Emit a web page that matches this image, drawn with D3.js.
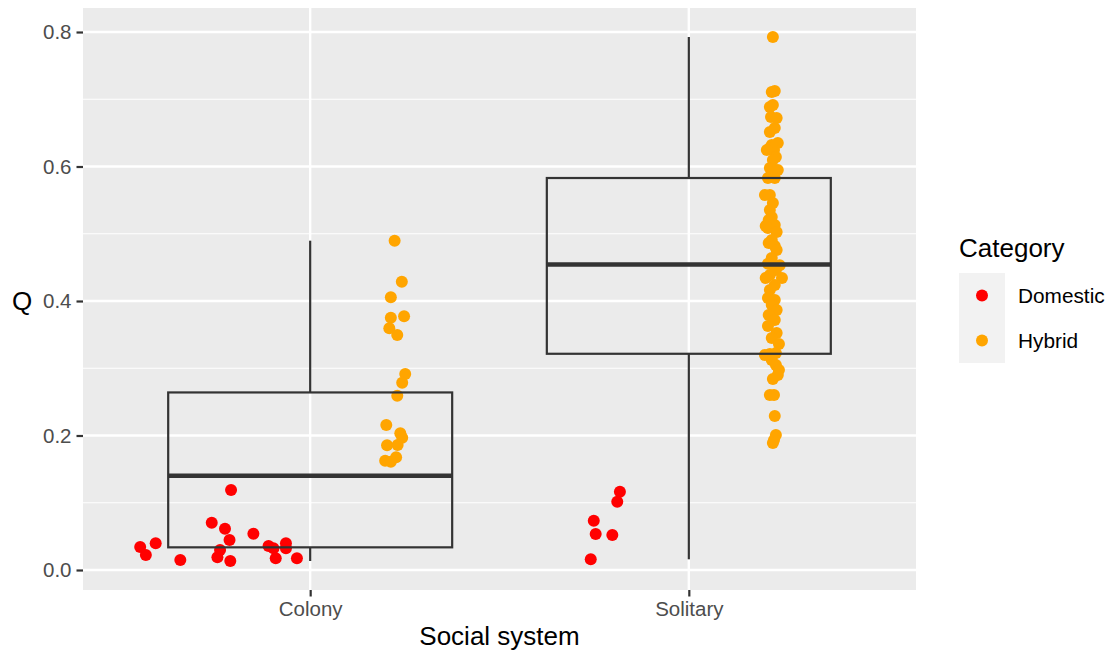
<!DOCTYPE html>
<html>
<head>
<meta charset="utf-8">
<script src="https://cdn.jsdelivr.net/npm/d3@7"></script>
<style>
  body { margin: 0; background: #fff; }
  svg { font-family: "Liberation Sans", Arial, Helvetica, sans-serif; }
</style>
</head>
<body>
<div id="chart"></div>
<script>
// categories and tick labels
const systems = ["Colony", "Solitary"];
const categories = ["Domestic", "Hybrid"];
const yTicks = [0, 0.2, 0.4, 0.6, 0.8];

// Q values, with the jitter offset (in category units) of each point
const colonyDomesticQ = [0.0342, 0.0397, 0.0223, 0.0149, 0.0704, 0.0615, 0.0540, 0.0446, 0.0297, 0.0189,
  0.0134, 0.1190, 0.0357, 0.0322, 0.0397, 0.0322, 0.0174, 0.0174];
const colonyDomesticJit = [-0.449, -0.408, -0.434, -0.343, -0.260, -0.225, -0.150, -0.213, -0.238, -0.245,
  -0.211, -0.209, -0.110, -0.097, -0.064, -0.064, -0.091, -0.035];

const colonyHybridQ = [0.4897, 0.4287, 0.4055, 0.3752, 0.3772, 0.3594, 0.3494, 0.2914, 0.2785, 0.2592,
  0.2156, 0.2033, 0.1967, 0.1854, 0.1859, 0.1676, 0.1625, 0.1611];
const colonyHybridJit = [0.223, 0.242, 0.213, 0.213, 0.248, 0.209, 0.230, 0.251, 0.243, 0.230,
  0.201, 0.238, 0.243, 0.203, 0.231, 0.227, 0.198, 0.213];

const solitaryDomesticQ = [0.1165, 0.1016, 0.0733, 0.0535, 0.0520, 0.0159];
const solitaryDomesticJit = [-0.182, -0.189, -0.251, -0.246, -0.202, -0.259];

const solitaryHybridQ = [0.7926, 0.7108, 0.7123, 0.6885, 0.6914, 0.6736, 0.6721, 0.6572, 0.6513, 0.6320,
  0.6275, 0.6349, 0.6245, 0.6245, 0.6141, 0.6097, 0.5978, 0.5948, 0.5829, 0.5829,
  0.5576, 0.5576, 0.5457, 0.5353, 0.5249, 0.5204, 0.5130, 0.5086, 0.5086, 0.5115,
  0.5026, 0.4907, 0.4862, 0.4818, 0.4758, 0.4639, 0.4555, 0.4530, 0.4461, 0.4387,
  0.4342, 0.4342, 0.4238, 0.4164, 0.4045, 0.4015, 0.3941, 0.3866, 0.3792, 0.3717,
  0.3628, 0.3524, 0.3450, 0.3361, 0.3225, 0.3212, 0.3197, 0.3123, 0.3048, 0.2974,
  0.2900, 0.2840, 0.2602, 0.2602, 0.2290, 0.2007, 0.1933, 0.1888];
const solitaryHybridJit = [0.222, 0.219, 0.227, 0.214, 0.222, 0.217, 0.232, 0.227, 0.214, 0.219,
  0.214, 0.235, 0.225, 0.206, 0.230, 0.222, 0.214, 0.235, 0.209, 0.227,
  0.214, 0.201, 0.222, 0.214, 0.219, 0.211, 0.227, 0.209, 0.225, 0.203,
  0.232, 0.219, 0.211, 0.227, 0.232, 0.219, 0.209, 0.240, 0.230, 0.214,
  0.203, 0.246, 0.227, 0.214, 0.209, 0.227, 0.219, 0.232, 0.211, 0.227,
  0.209, 0.232, 0.219, 0.238, 0.230, 0.214, 0.201, 0.219, 0.230, 0.238,
  0.235, 0.222, 0.214, 0.225, 0.227, 0.230, 0.225, 0.222];

const colors = { Domestic: "#FF0000", Hybrid: "#FFA500" };

const groups = [
  { system: "Colony", cat: "Domestic", q: colonyDomesticQ, jit: colonyDomesticJit },
  { system: "Colony", cat: "Hybrid", q: colonyHybridQ, jit: colonyHybridJit },
  { system: "Solitary", cat: "Domestic", q: solitaryDomesticQ, jit: solitaryDomesticJit },
  { system: "Solitary", cat: "Hybrid", q: solitaryHybridQ, jit: solitaryHybridJit }
];
const points = groups.flatMap(g => g.q.map((v, i) => ({ system: g.system, cat: g.cat, q: v, jit: g.jit[i] })));

const W = 1110, H = 652;
const panel = { left: 83, right: 916, top: 8, bottom: 590 };

const svg = d3.select("#chart").append("svg").attr("width", W).attr("height", H);

// discrete x positions 1..n with ggplot's 0.6 expansion
const x = d3.scaleLinear().domain([0.4, systems.length + 0.6]).range([panel.left, panel.right]);
const xPos = s => systems.indexOf(s) + 1;
const y = d3.scaleLinear().domain([-0.02974, 0.8357]).range([panel.bottom, panel.top]);

// panel background and grid
svg.append("rect")
  .attr("x", panel.left).attr("y", panel.top)
  .attr("width", panel.right - panel.left).attr("height", panel.bottom - panel.top)
  .attr("fill", "#EBEBEB");

const minor = d3.range(0.1, 0.8, 0.2);
svg.append("g").selectAll("line").data(minor).enter().append("line")
  .attr("x1", panel.left).attr("x2", panel.right)
  .attr("y1", d => y(d)).attr("y2", d => y(d))
  .attr("stroke", "#fff").attr("stroke-width", 1.2);
svg.append("g").selectAll("line").data(yTicks).enter().append("line")
  .attr("x1", panel.left).attr("x2", panel.right)
  .attr("y1", d => y(d)).attr("y2", d => y(d))
  .attr("stroke", "#fff").attr("stroke-width", 2.4);
svg.append("g").selectAll("line").data(systems).enter().append("line")
  .attr("x1", d => x(xPos(d))).attr("x2", d => x(xPos(d)))
  .attr("y1", panel.top).attr("y2", panel.bottom)
  .attr("stroke", "#fff").attr("stroke-width", 2.4);

// points (jitter-dodged)
svg.append("g").selectAll("circle").data(points).enter().append("circle")
  .attr("cx", d => x(xPos(d.system) + d.jit))
  .attr("cy", d => y(d.q))
  .attr("r", 6)
  .attr("fill", d => colors[d.cat]);

// boxplot stats per social system, all categories together
const boxW = 0.75;
const stats = systems.map(s => {
  const v = points.filter(p => p.system === s).map(p => p.q).sort(d3.ascending);
  const q1 = d3.quantile(v, 0.25), med = d3.quantile(v, 0.5), q3 = d3.quantile(v, 0.75);
  const iqr = q3 - q1;
  const lo = d3.min(v.filter(d => d >= q1 - 1.5 * iqr));
  const hi = d3.max(v.filter(d => d <= q3 + 1.5 * iqr));
  return { s, q1, med, q3, lo, hi };
});

const box = svg.append("g").attr("stroke", "#333333").attr("fill", "none");
stats.forEach(d => {
  const cx = x(xPos(d.s));
  box.append("line").attr("x1", cx).attr("x2", cx).attr("y1", y(d.q3)).attr("y2", y(d.hi)).attr("stroke-width", 2.2);
  box.append("line").attr("x1", cx).attr("x2", cx).attr("y1", y(d.q1)).attr("y2", y(d.lo)).attr("stroke-width", 2.2);
  box.append("rect")
    .attr("x", x(xPos(d.s) - boxW / 2)).attr("width", x(xPos(d.s) + boxW / 2) - x(xPos(d.s) - boxW / 2))
    .attr("y", y(d.q3)).attr("height", y(d.q1) - y(d.q3))
    .attr("stroke-width", 2.2);
  box.append("line")
    .attr("x1", x(xPos(d.s) - boxW / 2)).attr("x2", x(xPos(d.s) + boxW / 2))
    .attr("y1", y(d.med)).attr("y2", y(d.med))
    .attr("stroke-width", 4.6);
});

// axes
const yAxis = svg.append("g")
  .attr("transform", `translate(${panel.left},0)`)
  .call(d3.axisLeft(y).tickValues(yTicks).tickFormat(d3.format(".1f")).tickSize(6.5).tickPadding(5));
const xAxis = svg.append("g")
  .attr("transform", `translate(0,${panel.bottom})`)
  .call(d3.axisBottom(x).tickValues(systems.map(xPos)).tickFormat(d => systems[d - 1]).tickSize(6.5).tickPadding(5));
[xAxis, yAxis].forEach(a => {
  a.select(".domain").remove();
  a.selectAll(".tick line").attr("stroke", "#333333").attr("stroke-width", 2.2);
  a.selectAll(".tick text").attr("fill", "#4D4D4D").style("font-size", "20.5px");
});

svg.append("text").attr("x", (panel.left + panel.right) / 2).attr("y", 645)
  .attr("text-anchor", "middle").style("font-size", "26px").text("Social system");
svg.append("text").attr("x", 22).attr("y", y(0.4)).attr("dy", "0.36em")
  .attr("text-anchor", "middle").style("font-size", "26px").text("Q");

// legend
const lg = svg.append("g").attr("transform", "translate(959,0)");
lg.append("text").attr("x", 0).attr("y", 257).style("font-size", "26px").text("Category");
categories.forEach((c, i) => {
  const top = 273 + i * 45;
  lg.append("rect").attr("x", 0).attr("y", top).attr("width", 46).attr("height", 45).attr("fill", "#F2F2F2");
  lg.append("circle").attr("cx", 23).attr("cy", top + 22.5).attr("r", 6).attr("fill", colors[c]);
  lg.append("text").attr("x", 59).attr("y", top + 22.5).attr("dy", "0.36em").style("font-size", "20.8px").text(c);
});
</script>
</body>
</html>
